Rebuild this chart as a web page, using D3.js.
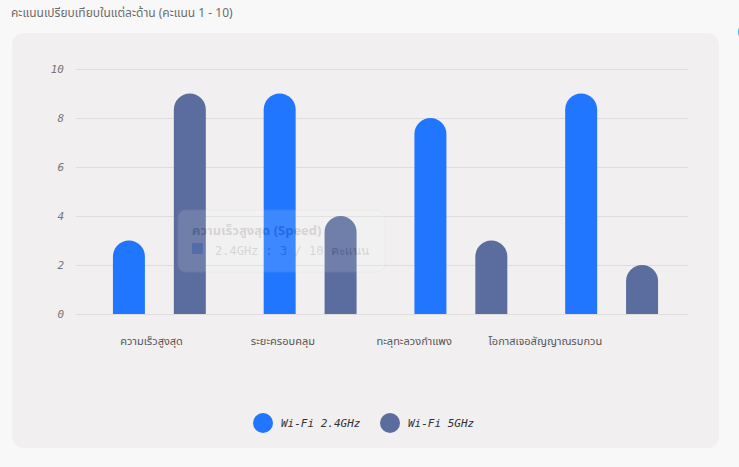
<!DOCTYPE html>
<html>
<head>
<meta charset="utf-8">
<script src="https://cdn.jsdelivr.net/npm/d3@7"></script>
<style>
  html, body { margin: 0; padding: 0; background: #f8f8f8; }
  svg { display: block; font-family: "Noto Sans Thai", "Noto Sans Thai UI", "Sarabun", "Kanit", "Prompt", "Noto Sans", sans-serif; }
</style>
</head>
<body>
<svg id="chart" width="739" height="467"></svg>
<script>
// data
const categories = ["ความเร็วสูงสุด", "ระยะครอบคลุม", "ทะลุทะลวงกำแพง", "โอกาสเจอสัญญาณรบกวน"];
const tooltipTitles = ["ความเร็วสูงสุด (Speed)", "ระยะครอบคลุม", "ทะลุทะลวงกำแพง", "โอกาสเจอสัญญาณรบกวน"];
const seriesNames = ["Wi-Fi 2.4GHz", "Wi-Fi 5GHz"];
const seriesShort = ["2.4GHz", "5GHz"];
const wifi24 = [3, 9, 8, 9];
const wifi5 = [9, 4, 3, 2];
const yTicks = [0, 2, 4, 6, 8, 10];
const colors = ["#2176ff", "#5b6c9e"];

const svg = d3.select("#chart");

// subtitle
svg.append("text")
    .attr("x", 11).attr("y", 17)
    .attr("fill", "#6b6b6b")
    .style("font-size", "12px")
    .text("คะแนนเปรียบเทียบในแต่ละด้าน (คะแนน 1 - 10)");

// blue sliver on the right edge
svg.append("circle")
    .attr("cx", 748).attr("cy", 32).attr("r", 10)
    .attr("fill", "#5aaeff");

// card
svg.append("rect")
    .attr("x", 12).attr("y", 33)
    .attr("width", 707).attr("height", 415)
    .attr("rx", 12)
    .attr("fill", "#f1eff0");

let x = d3.scaleBand()
    .domain(categories)
    .range([84, 687]);

// the labels sit on a narrower band than the bars
let xLabel = d3.scaleBand()
    .domain(categories)
    .range([86, 611]);

let xSub = d3.scaleBand()
    .domain([0, 1])
    .range([0, x.bandwidth()])
    .paddingInner(0.475)
    .paddingOuter(0.475);

let y = d3.scaleLinear()
    .domain([0, 10])
    .range([314, 69]);

// grid + y labels
let grid = svg.append("g");
grid.selectAll("line")
    .data(yTicks)
    .enter()
    .append("line")
    .attr("x1", 76).attr("x2", 688)
    .attr("y1", d => y(d) + 0.5).attr("y2", d => y(d) + 0.5)
    .attr("stroke", "#dfdcde")
    .attr("stroke-width", 1);

grid.selectAll("text")
    .data(yTicks)
    .enter()
    .append("text")
    .attr("x", 64)
    .attr("y", d => y(d) + 4)
    .attr("text-anchor", "end")
    .attr("fill", "#777")
    .style("font-family", "'DejaVu Sans Mono', monospace")
    .style("font-style", "italic")
    .style("font-size", "11px")
    .text(d => d);

// bars, rounded on top only
function barPath(x0, w, yTop, yBase) {
    let r = Math.min(w / 2, yBase - yTop);
    return "M" + x0 + "," + yBase +
        "V" + (yTop + r) +
        "A" + r + "," + r + " 0 0 1 " + (x0 + w) + "," + (yTop + r) +
        "V" + yBase + "Z";
}

let bars = [];
categories.forEach((c, i) => {
    bars.push({ cat: c, s: 0, v: wifi24[i] });
    bars.push({ cat: c, s: 1, v: wifi5[i] });
});

svg.append("g")
    .selectAll("path")
    .data(bars)
    .enter()
    .append("path")
    .attr("d", d => barPath(x(d.cat) + xSub(d.s), xSub.bandwidth(), y(d.v), y(0)))
    .attr("fill", d => colors[d.s]);

// x labels
svg.append("g")
    .selectAll("text")
    .data(categories)
    .enter()
    .append("text")
    .attr("x", d => xLabel(d) + xLabel.bandwidth() / 2)
    .attr("y", 345)
    .attr("text-anchor", "middle")
    .attr("fill", "#555")
    .style("font-size", "11px")
    .text(d => d);

// faded tooltip
let tip = svg.append("g").attr("opacity", 0.13);
tip.append("rect")
    .attr("x", 178).attr("y", 210)
    .attr("width", 207).attr("height", 62)
    .attr("rx", 8)
    .attr("fill", "#ffffff")
    .attr("stroke", "#cccccc");
tip.append("text")
    .attr("x", 192).attr("y", 235)
    .attr("fill", "#222")
    .style("font-weight", "bold")
    .style("font-size", "13px")
    .text(tooltipTitles[0]);
tip.append("rect")
    .attr("x", 192).attr("y", 243)
    .attr("width", 11).attr("height", 11)
    .attr("fill", colors[0]);
tip.append("text")
    .attr("x", 215).attr("y", 255)
    .attr("fill", "#222")
    .style("font-family", "'DejaVu Sans Mono', monospace")
    .style("font-size", "12px")
    .text(seriesShort[0] + " : " + wifi24[0] + " / 10 คะแนน");

// legend
let legend = svg.append("g");
let legendX = [263, 390];
seriesNames.forEach((name, i) => {
    legend.append("circle")
        .attr("cx", legendX[i]).attr("cy", 423).attr("r", 10)
        .attr("fill", colors[i]);
    legend.append("text")
        .attr("x", legendX[i] + 18).attr("y", 427)
        .attr("fill", "#333")
        .style("font-family", "'DejaVu Sans Mono', monospace")
        .style("font-style", "italic")
        .style("font-size", "11px")
        .text(name);
});
</script>
</body>
</html>
